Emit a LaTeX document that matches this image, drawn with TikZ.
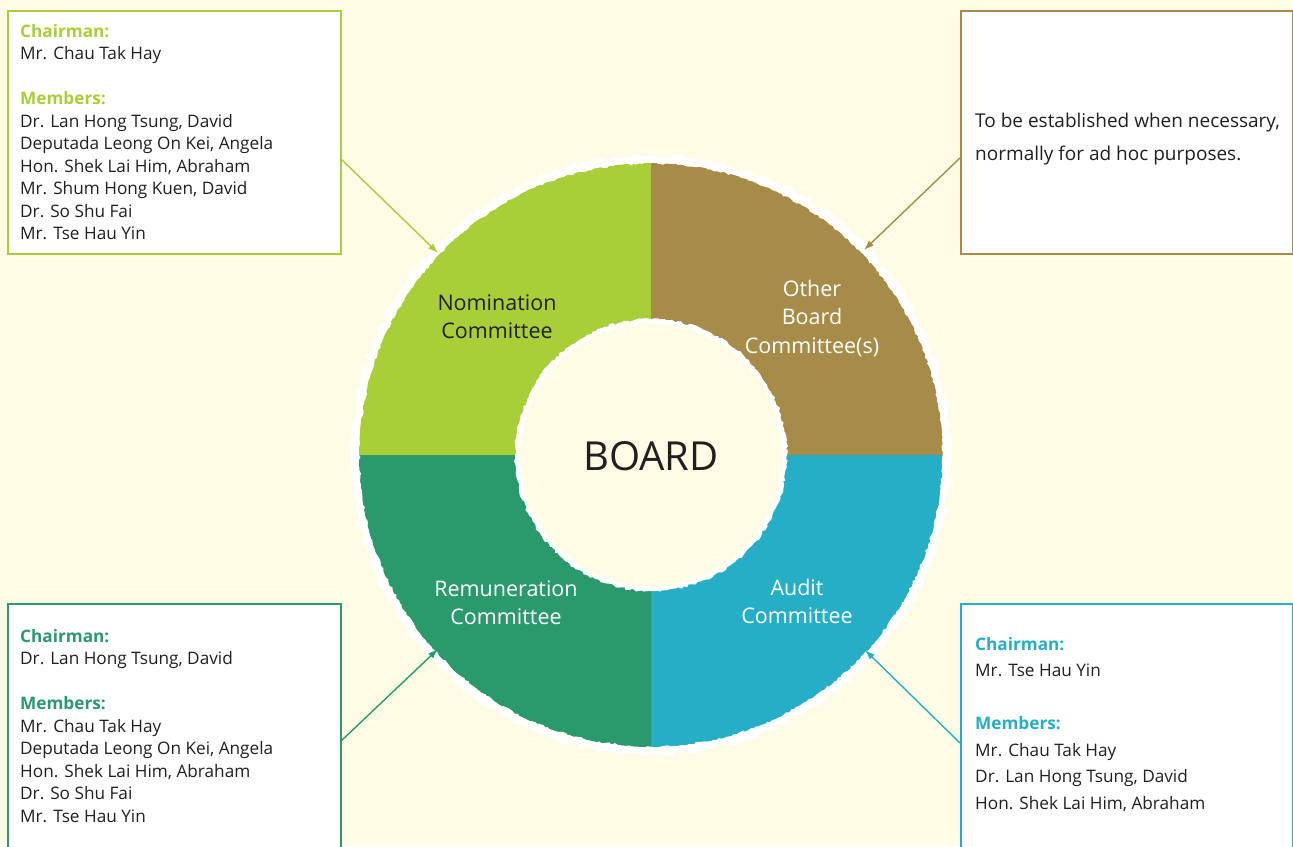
\documentclass[tikz,border=0pt]{standalone}
\usepackage{fontspec}
\setmainfont{Open Sans}
\usetikzlibrary{arrows.meta,decorations.pathmorphing}
\definecolor{paper}{HTML}{FEFCE4}
\definecolor{nomgreen}{HTML}{A8CE38}
\definecolor{othbrown}{HTML}{A68C48}
\definecolor{remgreen}{HTML}{2A9A6C}
\definecolor{audblue}{HTML}{26AEC6}
\definecolor{ink}{HTML}{231F20}
\newcommand\boxfont{\fontsize{17.2}{22.5}\selectfont}
\newcommand\ringfont{\fontsize{21.5}{28.5}\selectfont}
\newcommand\headline[2]{\textcolor{#1}{\bfseries #2}}
\begin{document}
\begin{tikzpicture}[x=1pt,y=-1pt,
  infobox/.style={draw=#1, line width=1.8pt, fill=white, anchor=north west,
    inner sep=0, minimum width=333pt},
  pointer/.style={draw=#1, line width=1.4pt, -{Latex[length=10pt,width=7pt]}},
  boxtext/.style={anchor=base west, inner sep=0, text=ink},
  ringlabel/.style={anchor=base, inner sep=0, text=#1},
  rough/.style={decorate, decoration={random steps, segment length=3pt, amplitude=1.3pt}},
  brush/.style={decorate, decoration={random steps, segment length=5pt, amplitude=2.4pt}},
]
\pgfmathsetseed{7}
% page
\fill[paper] (0,0) rectangle (1293,846);
\useasboundingbox (0,0) rectangle (1293,846);
\clip (0,0) rectangle (1293,846);

% committee boxes
\node (nombox) [infobox=nomgreen, minimum height=243pt] at (7,10) {};
\node (othbox) [infobox=othbrown, minimum height=243pt, minimum width=332pt] at (960,10) {};
\node (rembox) [infobox=remgreen, minimum height=260pt] at (7,603) {};
\node (audbox) [infobox=audblue, minimum height=260pt, minimum width=332pt] at (960,603) {};

% the ring of committees around the board
\begin{scope}[shift={(651,455)}, y=1pt]
  \fill[white, brush] (0,0) circle[radius=300];
  \fill[nomgreen] (0,0) -- (180:292) arc[start angle=180, end angle=90, radius=292] -- cycle;
  \fill[othbrown] (0,0) -- (90:292) arc[start angle=90, end angle=0, radius=292] -- cycle;
  \fill[audblue] (0,0) -- (0:292) arc[start angle=0, end angle=-90, radius=292] -- cycle;
  \fill[remgreen] (0,0) -- (-90:292) arc[start angle=-90, end angle=-180, radius=292] -- cycle;
  \draw[white, line width=2.5pt, rough] (0,0) circle[radius=293];
  \fill[white, rough] (0,0) circle[radius=136];
  \fill[paper, rough] (0,0) circle[radius=131];
\end{scope}

% pointers from the boxes to the ring
\coordinate (nomfrom) at (340,158);
\coordinate (nomtip) at (438,253);
\coordinate (othfrom) at (960,158);
\coordinate (othtip) at (864,250);
\coordinate (remfrom) at (340,742);
\coordinate (remtip) at (438,649);
\coordinate (audfrom) at (960,743);
\coordinate (audtip) at (865,650);
\draw[pointer=nomgreen] (nomfrom) -- (nomtip);
\draw[pointer=othbrown] (othfrom) -- (othtip);
\draw[pointer=remgreen] (remfrom) -- (remtip);
\draw[pointer=audblue] (audfrom) -- (audtip);

% ring labels
\node (board) [ringlabel=ink] at (651,470) {\fontsize{40}{48}\selectfont BOARD};
\node (nomlabel) [ringlabel=ink] at (497,310)
  {\parbox[t]{200pt}{\ringfont\centering Nomination\\Committee}};
\node (othlabel) [ringlabel=white] at (812,296)
  {\parbox[t]{200pt}{\ringfont\centering Other\\Board\\Committee(s)}};
\node (remlabel) [ringlabel=white] at (506,596)
  {\parbox[t]{200pt}{\ringfont\centering Remuneration\\Committee}};
\node (audlabel) [ringlabel=white] at (797,595)
  {\parbox[t]{200pt}{\ringfont\centering Audit\\Committee}};

% box contents
\node (nomtext) [boxtext] at (20,37) {\parbox[t]{310pt}{\boxfont\raggedright
  \headline{nomgreen}{Chairman:}\\
  Mr. Chau Tak Hay\\[22.5pt]
  \headline{nomgreen}{Members:}\\
  Dr. Lan Hong Tsung, David\\
  Deputada Leong On Kei, Angela\\
  Hon. Shek Lai Him, Abraham\\
  Mr. Shum Hong Kuen, David\\
  Dr. So Shu Fai\\
  Mr. Tse Hau Yin}};
\node (othtext) [boxtext] at (975,127) {\parbox[t]{315pt}{\fontsize{19}{33}\selectfont\raggedright
  To be established when necessary,\\
  normally for ad hoc purposes.}};
\node (remtext) [boxtext] at (20,642) {\parbox[t]{310pt}{\boxfont\raggedright
  \headline{remgreen}{Chairman:}\\
  Dr. Lan Hong Tsung, David\\[22.5pt]
  \headline{remgreen}{Members:}\\
  Mr. Chau Tak Hay\\
  Deputada Leong On Kei, Angela\\
  Hon. Shek Lai Him, Abraham\\
  Dr. So Shu Fai\\
  Mr. Tse Hau Yin}};
\node (audtext) [boxtext] at (975,650) {\parbox[t]{310pt}{\fontsize{17.2}{26.5}\selectfont\raggedright
  \headline{audblue}{Chairman:}\\
  Mr. Tse Hau Yin\\[26.5pt]
  \headline{audblue}{Members:}\\
  Mr. Chau Tak Hay\\
  Dr. Lan Hong Tsung, David\\
  Hon. Shek Lai Him, Abraham}};
\end{tikzpicture}
\end{document}
